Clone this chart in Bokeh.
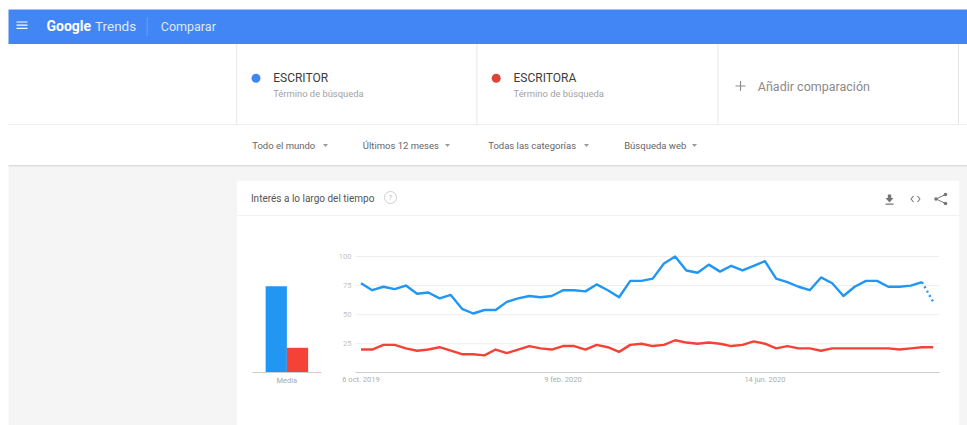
from datetime import datetime, timedelta, timezone

from bokeh.core.properties import value
from bokeh.embed import file_html
from bokeh.models import FixedTicker, LinearAxis, Range1d
from bokeh.plotting import figure
from bokeh.resources import INLINE

# ---------- data ----------
START = datetime(2019, 10, 6, tzinfo=timezone.utc)
escritor = [77, 71, 74, 72, 75, 68, 69, 64, 67, 55, 51, 54, 54, 61, 64, 66, 65, 66, 71, 71,
            70, 76, 71, 65, 79, 79, 81, 94, 100, 88, 86, 93, 87, 92, 88, 92, 96, 81, 78, 74,
            71, 82, 77, 66, 74, 79, 79, 74, 74, 75, 78, 61]
escritora = [20, 20, 24, 24, 21, 19, 20, 22, 19, 16, 16, 15, 20, 17, 20, 23, 21, 20, 23, 23,
             20, 24, 22, 18, 24, 25, 23, 24, 28, 26, 25, 26, 25, 23, 24, 27, 25, 21, 23, 21,
             21, 19, 21, 21, 21, 21, 21, 21, 20, 21, 22, 22]
terms = ["ESCRITOR", "ESCRITORA"]
averages = [74.5, 21.5]
y_ticks = [25, 50, 75, 100]
date_ticks = [datetime(2019, 10, 6, tzinfo=timezone.utc),
              datetime(2020, 2, 9, tzinfo=timezone.utc),
              datetime(2020, 6, 14, tzinfo=timezone.utc)]
date_labels = ["6 oct. 2019", "9 feb. 2020", "14 jun. 2020"]
avg_label = "Media"
BLUE, RED = "#2196f3", "#f44336"
HEAD, DOT_B, DOT_R = "#4285f4", "#4285f4", "#db4437"
FONT = value("Roboto")

# ---------- page geometry (page pixels) ----------
W, H = 967, 425
L, T = 0, 0
R, B = L + W, T + H
CL = 8                              # left edge of the page's content
PX_WEEK, X0 = 11.22, 360.5          # line chart x mapping
PX_UNIT, Y0 = 1.163, 372.3          # value -> page y
BAR_X0, BAR_W = 275.75, 21.25


def ms(d):
    return d.timestamp() * 1000


WEEK_MS = 7 * 86400000
dates = [START + timedelta(days=7 * i) for i in range(len(escritor))]
date_ms = [ms(d) for d in dates]
px2ms = lambda x: ms(START) + (x - X0) / PX_WEEK * WEEK_MS
py2v = lambda y: (Y0 - y) / PX_UNIT

p = figure(width=W, height=H, output_backend="svg", toolbar_location=None,
           x_range=Range1d(px2ms(L), px2ms(R)), y_range=Range1d(py2v(B), py2v(T)),
           min_border=0, min_border_left=0, min_border_right=0, min_border_top=0,
           min_border_bottom=0, x_axis_type=None, y_axis_type=None)
p.outline_line_color = None
p.grid.visible = False
p.background_fill_color = "white"
p.border_fill_color = "white"
p.extra_x_ranges["px"] = Range1d(L, R)
p.extra_y_ranges["py"] = Range1d(B, T)
p.extra_x_ranges["bar"] = Range1d((L - BAR_X0) / BAR_W, (R - BAR_X0) / BAR_W)
PG = dict(x_range_name="px", y_range_name="py")


def box(x0, x1, y0, y1, color):
    p.quad(left=[x0], right=[x1], top=[y0], bottom=[y1], fill_color=color, line_color=None, **PG)


def ln(xs, ys, color, width=1.0):
    p.line(xs, ys, line_color=color, line_width=width, **PG)


def txt(x, y, s, size, color, align="left", font=FONT, style="normal"):
    p.text([x], [y], text=[s], text_font=font, text_font_size=f"{size}px", text_color=color,
           text_align=align, text_baseline="middle", text_font_style=style, **PG)


def caret(x, y):
    p.patch([x - 2.5, x + 2.5, x], [y - 1.3, y - 1.3, y + 1.7], fill_color="#9a9a9a", line_color=None, **PG)


# ---------- chrome ----------
box(CL, R, 166, B, "#f5f5f5")
box(CL, R, 9, 43.5, HEAD)
box(CL, R, 43.5, 165, "white")
box(CL, R, 164.4, 166, "#dcdcdc")
ln([CL, R], [124, 124], "#efefef")
for vx in (236.2, 476.4, 717.4, 958):
    ln([vx, vx], [43.5, 124], "#e6e6e6")
for hy in (21.5, 24.7, 27.9):
    ln([16, 27], [hy, hy], "white", 1.2)
txt(46, 25, "Google", 14, "white", style="bold")
txt(94.5, 25, "Trends", 13.5, "#dfe9fd")
ln([146.7, 146.7], [17, 35], "#6ea0f6")
txt(160.3, 25.5, "Comparar", 12.5, "#dfe9fd")

p.scatter([255.5], [77.7], size=9, fill_color=DOT_B, line_color=None, **PG)
txt(272.7, 77.7, terms[0], 12, "#3c3c3c")
txt(272.7, 92.5, "Término de búsqueda", 9.4, "#a2a2a2")
p.scatter([495.7], [77.7], size=9, fill_color=DOT_R, line_color=None, **PG)
txt(513, 77.7, terms[1], 12, "#3c3c3c")
txt(513, 92.5, "Término de búsqueda", 9.4, "#a2a2a2")
ln([735, 745], [85.5, 85.5], "#8a8a8a", 1.1)
ln([740, 740], [80.5, 90.5], "#8a8a8a", 1.1)
txt(757.3, 86, "Añadir comparación", 12.5, "#8a8a8a")

for fx, cx, s in [(251.7, 325, "Todo el mundo"), (362.3, 447, "Últimos 12 meses"),
                  (487.7, 586, "Todas las categorías"), (623.7, 694, "Búsqueda web")]:
    txt(fx, 145, s, 9.5, "#666666")
    caret(cx, 144.7)

box(236.5, 958.7, 180.5, B, "white")
ln([236.5, 958.7], [215, 215], "#f2f2f2")
txt(250.4, 198, "Interés a lo largo del tiempo", 10, "#555555")
p.scatter([390], [197], size=12, fill_color=None, line_color="#cfcfcf", line_width=1, **PG)
txt(390, 197.3, "?", 8, "#c4c4c4", align="center")
# download icon
box(887.3, 890.7, 194, 198, "#757575")
p.patch([885, 893, 889], [197.5, 197.5, 202], fill_color="#757575", line_color=None, **PG)
box(885, 893, 203, 204.2, "#757575")
# embed icon
ln([913, 910.5, 913], [195.5, 198.5, 201.5], "#757575", 1.1)
ln([917, 919.5, 917], [195.5, 198.5, 201.5], "#757575", 1.1)
# share icon
ln([945, 935.5, 945], [194, 198.5, 203], "#757575", 1)
p.scatter([945, 935.5, 945], [194, 198.5, 203], size=3.6, fill_color="#757575", line_color=None, **PG)

# ---------- plot: gridlines ----------
gx0, gx1 = px2ms(355), px2ms(938.7)
p.segment(x0=[gx0] * len(y_ticks), x1=[gx1] * len(y_ticks), y0=y_ticks, y1=y_ticks,
          line_color="#eeeeee", line_width=1)

# ---------- plot: average bars ----------
p.vbar(x=[0, 1], top=averages, bottom=0, width=1, fill_color=[BLUE, RED], line_color=None,
       x_range_name="bar")

# ---------- plot: trend lines ----------
p.line(date_ms[:-1], escritor[:-1], line_color=BLUE, line_width=2.4, line_join="round")
p.line(date_ms[-2:], escritor[-2:], line_color=BLUE, line_width=2.4, line_dash="2 3")
p.line(date_ms, escritora, line_color=RED, line_width=2.4, line_join="round")

# ---------- axes ----------
TICK_FONT = "7.5px"
xa = LinearAxis(fixed_location=0, ticker=FixedTicker(ticks=[ms(d) for d in date_ticks]),
                major_label_overrides={ms(d): s for d, s in zip(date_ticks, date_labels)},
                bounds=(px2ms(355), px2ms(938.7)))
xa.axis_line_color = "#cccccc"
xa.major_tick_line_color = None
xa.minor_tick_line_color = None
xa.major_label_standoff = -4
xa.major_label_text_font = "Roboto"
xa.major_label_text_font_size = TICK_FONT
xa.major_label_text_color = "#adadad"
p.add_layout(xa, "below")

ba = LinearAxis(fixed_location=0, x_range_name="bar", ticker=FixedTicker(ticks=[0.5]),
                major_label_overrides={0.5: avg_label},
                bounds=((251.7 - BAR_X0) / BAR_W, (321 - BAR_X0) / BAR_W))
ba.axis_line_color = "#cccccc"
ba.major_tick_line_color = None
ba.minor_tick_line_color = None
ba.major_label_standoff = -3
ba.major_label_text_font = "Roboto"
ba.major_label_text_font_size = TICK_FONT
ba.major_label_text_color = "#a8a8a8"
p.add_layout(ba, "below")

ya = LinearAxis(fixed_location=px2ms(360), ticker=FixedTicker(ticks=y_ticks))
ya.axis_line_color = None
ya.major_tick_line_color = None
ya.minor_tick_line_color = None
ya.major_label_standoff = 3
ya.major_label_text_font = "Roboto"
ya.major_label_text_font_size = TICK_FONT
ya.major_label_text_color = "#c2c2c2"
p.add_layout(ya, "left")

open("out.html", "w").write(file_html(p, INLINE))
